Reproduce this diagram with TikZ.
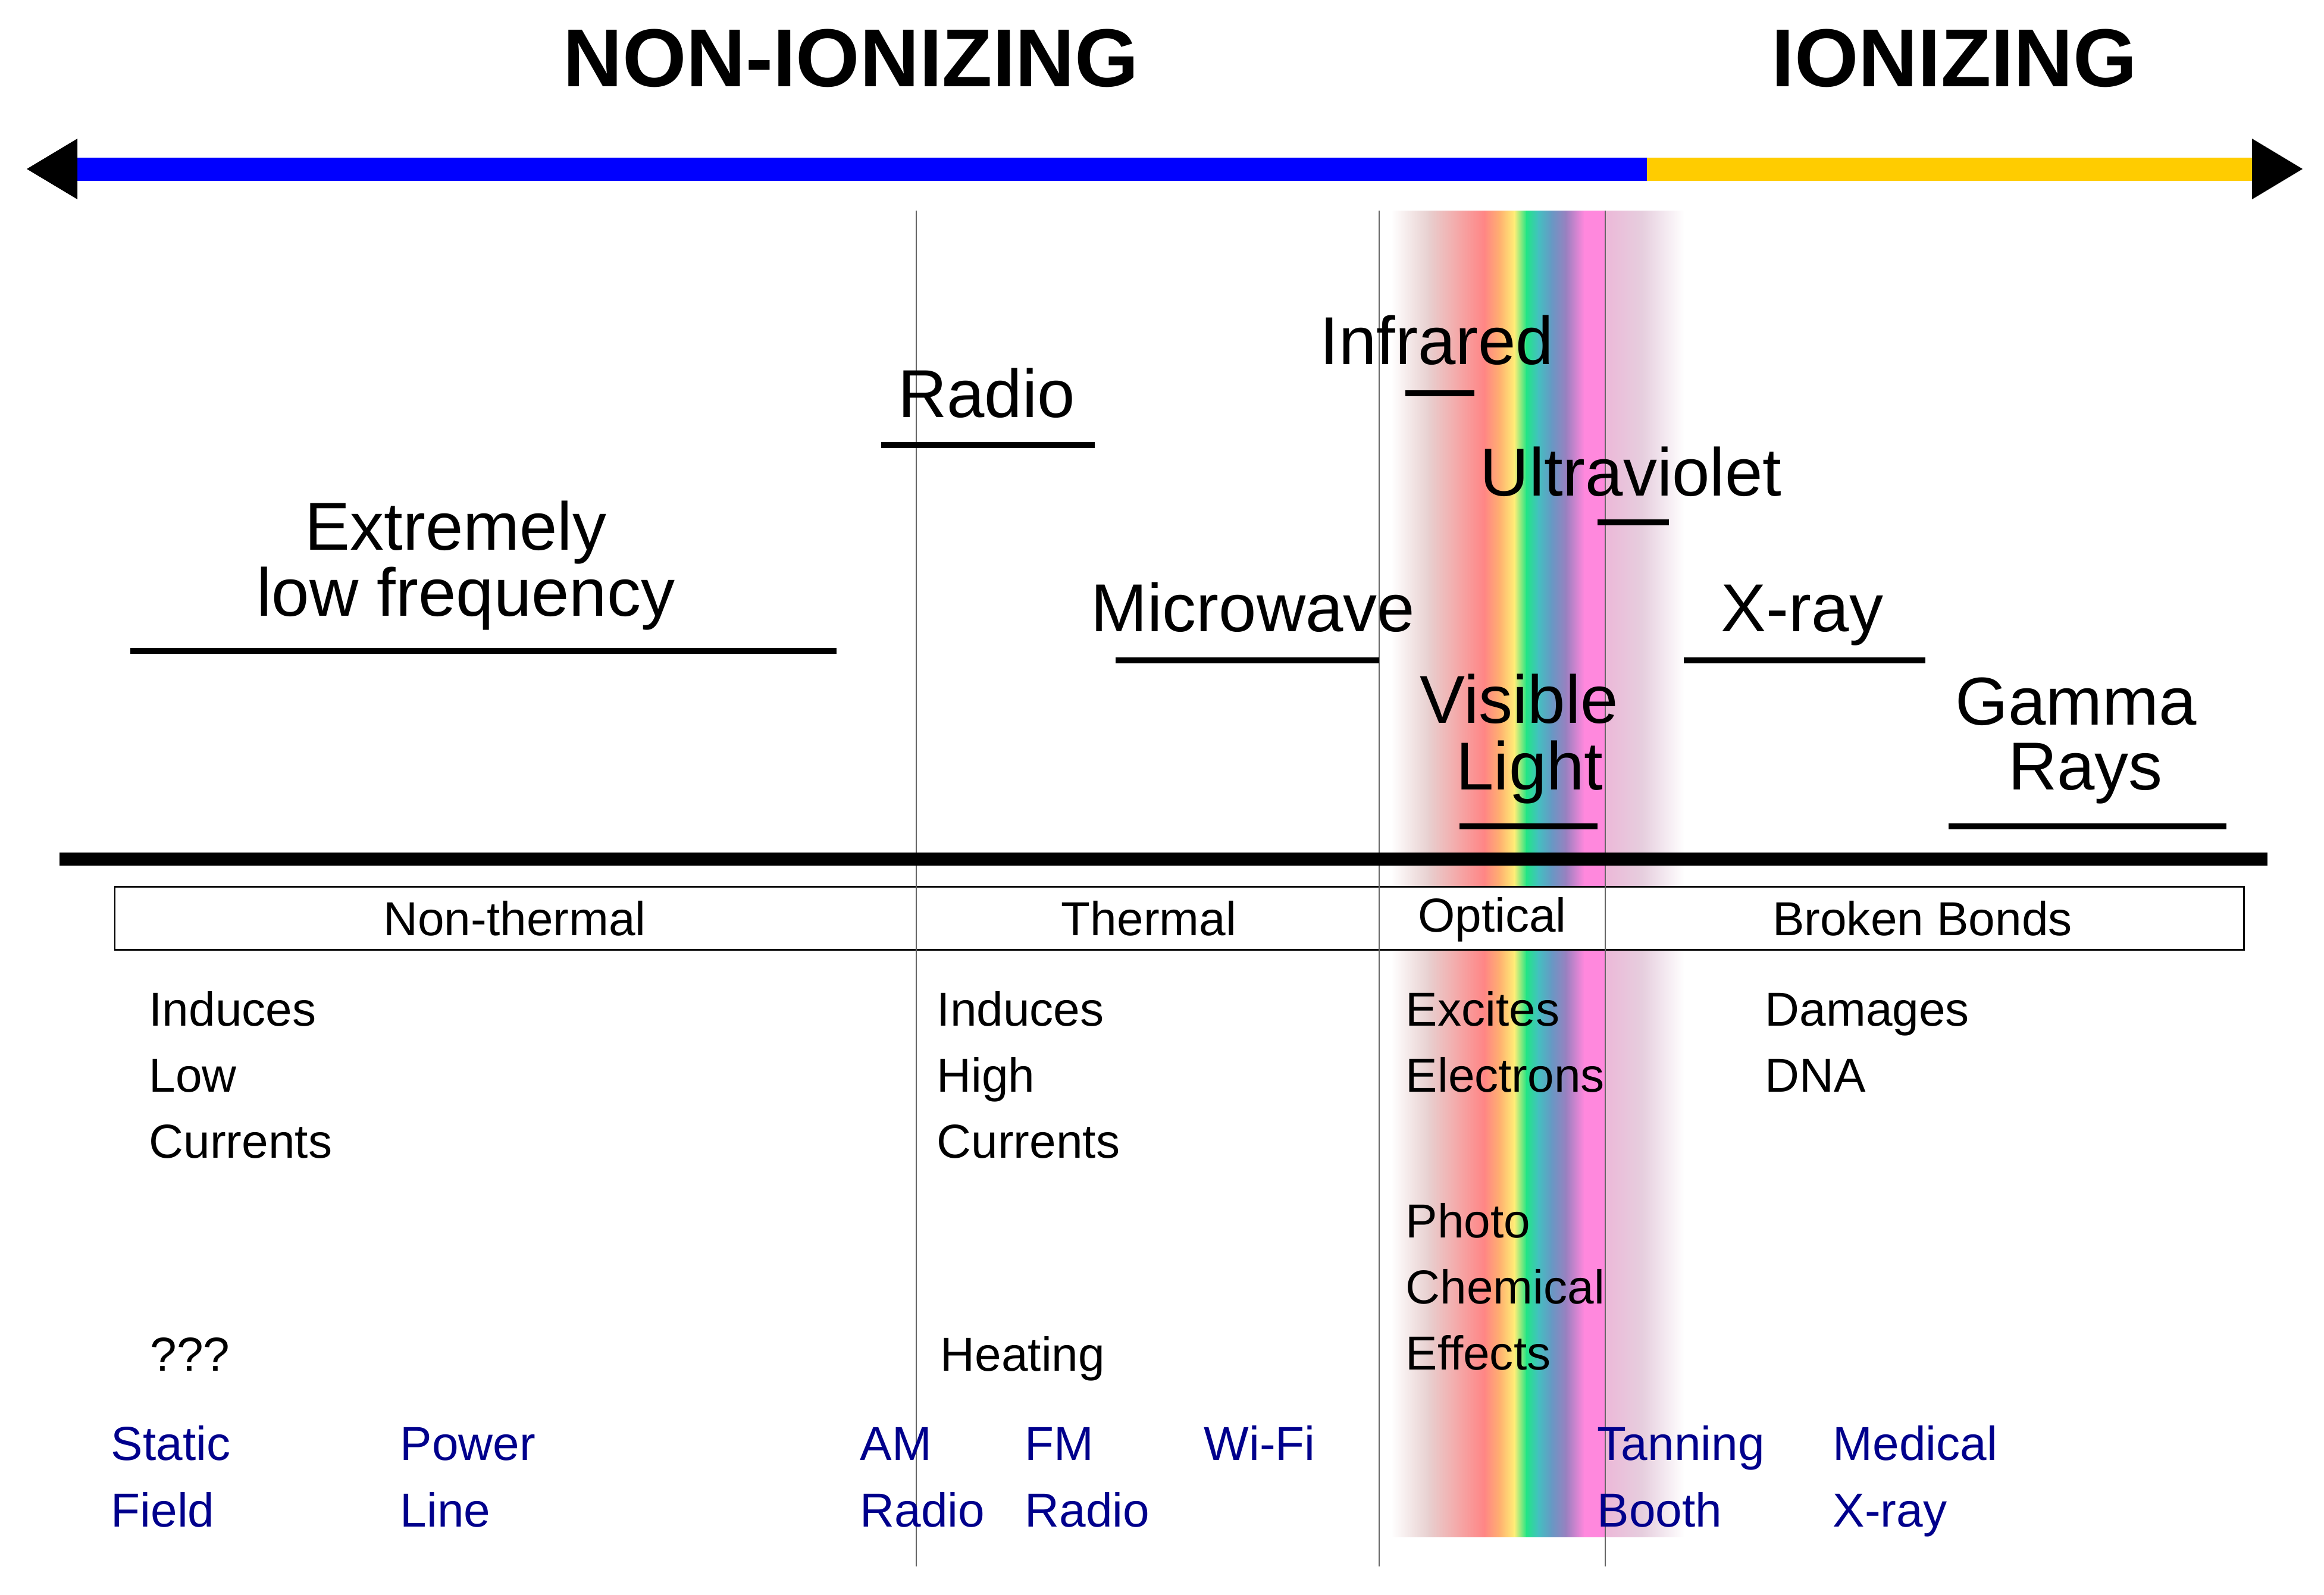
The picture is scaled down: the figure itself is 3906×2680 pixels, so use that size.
\documentclass[tikz,border=0pt]{standalone}
\usepackage{fontspec}
\setmainfont{Liberation Sans}
\usetikzlibrary{positioning}

\definecolor{nonion}{RGB}{0,0,255}
\definecolor{ion}{RGB}{255,204,0}
\definecolor{srcblue}{RGB}{0,0,140}
%spectrum colours, left to right
\definecolor{sp1}{RGB}{232,208,208}
\definecolor{sp2}{RGB}{255,133,133}
\definecolor{sp3}{RGB}{255,176,112}
\definecolor{sp4}{RGB}{255,238,119}
\definecolor{sp5}{RGB}{34,229,133}
\definecolor{sp6}{RGB}{68,192,192}
\definecolor{sp7}{RGB}{102,153,196}
\definecolor{sp8}{RGB}{154,128,192}
\definecolor{sp9}{RGB}{255,136,221}
\definecolor{sp10}{RGB}{236,184,216}
\definecolor{sp11}{RGB}{230,206,222}

\begin{document}
\begin{tikzpicture}
  [
    x=0.01cm, y=-0.01cm,
    title/.style  = {font=\fontsize{39.3pt}{47pt}\selectfont\bfseries, inner sep=0, anchor=base},
    band/.style   = {font=\fontsize{32.4pt}{39pt}\selectfont, inner sep=0, anchor=base},
    txt/.style    = {font=\fontsize{22.8pt}{27pt}\selectfont, inner sep=0, anchor=base west},
    cat/.style    = {txt, anchor=base},
    src/.style    = {txt, text=srcblue},
    uline/.style  = {line width=3.1pt},
    divider/.style= {draw=black!60, line width=0.8pt},
  ]

\useasboundingbox (0,0) rectangle (3906,2680);

%Vertical extents of the columns
\def \ytop{354}
\def \ybot{2633}
\def \yband{2583}
%Line spacing of the small text
\def \lsp{111}

%Visible spectrum band
\foreach \xa/\xb/\ca/\cb in {2338/2400/white/sp1, 2400/2494/sp1/sp2, 2494/2520/sp2/sp3,
    2520/2545/sp3/sp4, 2545/2565/sp4/sp5, 2565/2585/sp5/sp6, 2585/2607/sp6/sp7,
    2607/2632/sp7/sp8, 2632/2662/sp8/sp9, 2662/2698/sp9/sp9, 2698/2760/sp10/sp11,
    2760/2830/sp11/white}
{
\shade[left color=\ca, right color=\cb] (\xa,\ytop) rectangle (\xb+1,\yband);
}

%Category box
\draw[fill=white, line width=0.85pt] (193,1490) rectangle (3771,1596);

%Column dividers
\foreach \x in {1540,2318,2698}
{
\draw[divider] (\x,\ytop) -- (\x,\ybot);
}

%Ionizing arrow
\fill[nonion] (130,265) rectangle (2768,304);
\fill[ion] (2768,265) rectangle (3785,304);
\fill (45,284) -- (130,233) -- (130,335) -- cycle;
\fill (3870,284) -- (3785,233) -- (3785,335) -- cycle;

\node[title] (nonionizing) at (1430,145) {NON-IONIZING};
\node[title] (ionizing) at (3285,145) {IONIZING};

%Main axis
\draw[line width=6.3pt] (100,1444) -- (3811,1444);

%Band names
\foreach \n/\x/\y/\w in {elfa/766/924/Extremely, elfb/783/1035/low frequency,
    radio/1658/701/Radio, micro/2106/1061/Microwave, infra/2415/612/Infrared,
    uv/2741/833/Ultraviolet, visa/2553/1215/Visible, visb/2571/1327/Light,
    xray/3029/1061/X-ray, gama/3489/1218/Gamma, gamb/3505/1327/Rays}
{
\node[band] (\n) at (\x,\y) {\w};
}
\foreach \xa/\xb/\y in {219/1406/1094, 1481/1840/748, 1875/2318/1110, 2362/2478/661,
    2685/2805/878, 2453/2685/1389, 2830/3236/1110, 3275/3742/1389}
{
\draw[uline] (\xa,\y) -- (\xb,\y);
}

%Categories
\foreach [count=\i] \x/\y/\w in {865/1572/Non-thermal, 1931/1572/Thermal,
    2508/1566/Optical, 3231/1572/Broken Bonds}
{
\node[cat] (cat\i) at (\x,\y) {\w};
}

%Effects
\foreach [count=\i] \w in {Induces,Low,Currents}
{
\node[txt] (low\i) at (250,{1724+(\i-1)*\lsp}) {\w};
}
\foreach [count=\i] \w in {Induces,High,Currents}
{
\node[txt] (high\i) at (1574,{1724+(\i-1)*\lsp}) {\w};
}
\foreach [count=\i] \w in {Excites,Electrons}
{
\node[txt] (exc\i) at (2362,{1724+(\i-1)*\lsp}) {\w};
}
\foreach [count=\i] \w in {Photo,Chemical,Effects}
{
\node[txt] (photo\i) at (2362,{2080+(\i-1)*\lsp}) {\w};
}
\foreach [count=\i] \w in {Damages,DNA}
{
\node[txt] (dna\i) at (2966,{1724+(\i-1)*\lsp}) {\w};
}
\node[txt] (unknown) at (252,2304) {???};
\node[txt] (heating) at (1580,2304) {Heating};

%Sources
\foreach [count=\i] \x/\a/\b in {186/Static/Field, 672/Power/Line, 1445/AM/Radio,
    1722/FM/Radio, 2684/Tanning/Booth, 3080/Medical/X-ray}
{
\node[src] (srcA\i) at (\x,2454) {\a};
\node[src] (srcB\i) at (\x,2566) {\b};
}
\node[src] (wifi) at (2023,2454) {Wi-Fi};
\end{tikzpicture}
\end{document}
